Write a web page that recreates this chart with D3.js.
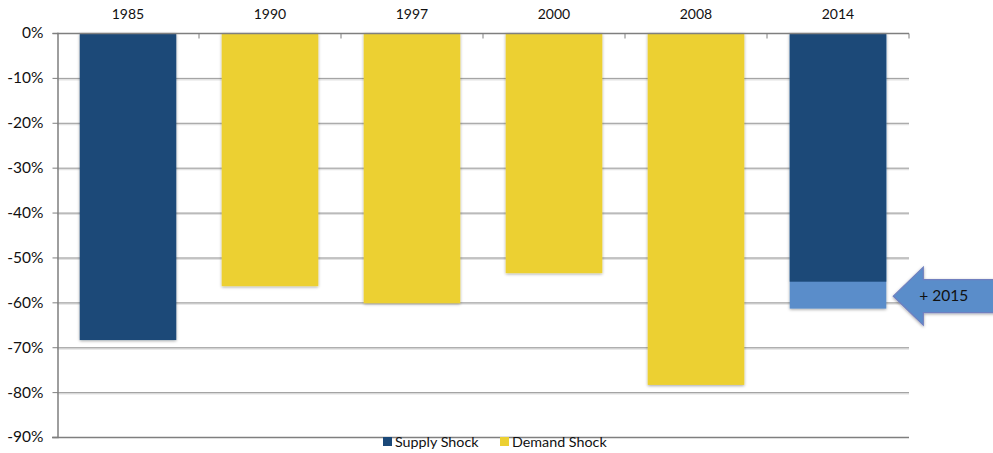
<!DOCTYPE html>
<html>
<head>
<meta charset="utf-8">
<script src="https://cdn.jsdelivr.net/npm/d3@7"></script>
<style>
  html, body { margin: 0; padding: 0; background: #fff; }
  svg { display: block; font-family: Lato, "Open Sans", sans-serif; }
</style>
</head>
<body>
<svg id="chart" width="993" height="453"></svg>
<script>
// Oil price drawdowns by episode (percent)
const years = ["1985", "1990", "1997", "2000", "2008", "2014"];
const supplyShock = [-68.4, null, null, null, null, -55.4];
const demandShock = [null, -56.4, -60.2, -53.5, -78.4, null];
const extension2015 = [null, null, null, null, null, -61.4];
const yTicks = [0, -10, -20, -30, -40, -50, -60, -70, -80, -90];
const seriesNames = ["Supply Shock", "Demand Shock"];
const arrowLabel = "+ 2015";

const colors = { supply: "#1a4878", demand: "#ecd032", ext: "#5a8dca" };

const svg = d3.select("#chart");
const m = { left: 57, right: 84, top: 33, bottom: 16 };
const W = 993, H = 453;

const x = d3.scaleBand().domain(years).range([m.left, W - m.right]).paddingInner(0.32).paddingOuter(0.16);
const y = d3.scaleLinear().domain([-90, 0]).range([H - m.bottom, m.top]);

const defs = svg.append("defs");
const f = defs.append("filter").attr("id", "soft").attr("x", "-10%").attr("y", "-10%").attr("width", "120%").attr("height", "120%");
f.append("feGaussianBlur").attr("in", "SourceAlpha").attr("stdDeviation", 1.6).attr("result", "b");
f.append("feOffset").attr("in", "b").attr("dx", 0).attr("dy", 1).attr("result", "o");
f.append("feFlood").attr("flood-color", "#000").attr("flood-opacity", 0.35);
f.append("feComposite").attr("in2", "o").attr("operator", "in").attr("result", "s");
const fm = f.append("feMerge");
fm.append("feMergeNode").attr("in", "s");
fm.append("feMergeNode").attr("in", "SourceGraphic");

// horizontal gridlines with a faint shadow
const grid = svg.append("g");
yTicks.filter(t => t !== 0 && t !== -90).forEach(t => {
  grid.append("line").attr("x1", m.left).attr("x2", W - m.right)
    .attr("y1", y(t) + 1.5).attr("y2", y(t) + 1.5)
    .attr("stroke", "#e2e2e2").attr("stroke-width", 2);
  grid.append("line").attr("x1", m.left).attr("x2", W - m.right)
    .attr("y1", y(t) + 0.5).attr("y2", y(t) + 0.5)
    .attr("stroke", "#9a9a9a").attr("stroke-width", 1);
});

// bars
const bars = svg.append("g").attr("filter", "url(#soft)");
years.forEach((yr, i) => {
  if (extension2015[i] != null) {
    bars.append("rect").attr("x", x(yr)).attr("width", x.bandwidth())
      .attr("y", y(0)).attr("height", y(extension2015[i]) - y(0)).attr("fill", colors.ext);
  }
  if (supplyShock[i] != null) {
    bars.append("rect").attr("x", x(yr)).attr("width", x.bandwidth())
      .attr("y", y(0)).attr("height", y(supplyShock[i]) - y(0)).attr("fill", colors.supply);
  }
  if (demandShock[i] != null) {
    bars.append("rect").attr("x", x(yr)).attr("width", x.bandwidth())
      .attr("y", y(0)).attr("height", y(demandShock[i]) - y(0)).attr("fill", colors.demand);
  }
});

// top category axis at 0%
const xAxis = svg.append("g").attr("transform", `translate(0,${y(0) + 0.5})`);
xAxis.append("line").attr("x1", m.left).attr("x2", W - m.right).attr("stroke", "#7f7f7f").attr("stroke-width", 1.5);
const bounds = years.map(yr => x(yr) - x.step() * x.paddingInner() / 2).slice(1).concat([W - m.right]);
bounds.forEach(b => {
  xAxis.append("line").attr("x1", b).attr("x2", b).attr("y1", 0).attr("y2", 5).attr("stroke", "#7f7f7f");
});
svg.append("g").selectAll("text").data(years).join("text")
  .attr("x", d => x(d) + x.bandwidth() / 2).attr("y", 19)
  .attr("text-anchor", "middle").attr("font-size", 14).attr("fill", "#111").text(d => d);

// bottom frame line
svg.append("line").attr("x1", m.left - 5).attr("x2", W - m.right)
  .attr("y1", y(-90) + 0.5).attr("y2", y(-90) + 0.5).attr("stroke", "#7f7f7f").attr("stroke-width", 1.5);

// value axis
const yAxis = d3.axisLeft(y).tickValues(yTicks).tickSize(5).tickFormat(d => d + "%");
const ya = svg.append("g").attr("transform", `translate(${m.left + 0.5},0)`).call(yAxis);
ya.select(".domain").attr("stroke", "#7f7f7f").attr("stroke-width", 1.5);
ya.selectAll(".tick line").attr("stroke", "#7f7f7f");
ya.selectAll(".tick text").attr("font-size", 15.5).attr("fill", "#111")
  .attr("font-family", "Lato, 'Open Sans', sans-serif").attr("x", -14);

// callout arrow pointing at the 2015 extension
const xa = x("2014") + x.bandwidth();
const ymid = y((supplyShock[5] + extension2015[5]) / 2) + 1;
const tipX = xa + 7, headBack = tipX + 30, shaftHalf = 16.5, headHalf = 29;
const arrowPts = [
  [tipX, ymid], [headBack, ymid - headHalf], [headBack, ymid - shaftHalf],
  [W + 5, ymid - shaftHalf], [W + 5, ymid + shaftHalf], [headBack, ymid + shaftHalf],
  [headBack, ymid + headHalf]
];
svg.append("path").attr("d", d3.line()(arrowPts) + "Z")
  .attr("fill", colors.ext).attr("stroke", "#6f7fbf").attr("stroke-width", 1.2)
  .attr("filter", "url(#soft)");
svg.append("text").attr("x", headBack - 4).attr("y", ymid + 5)
  .attr("font-size", 15.5).attr("fill", "#111").text(arrowLabel);

// legend
const leg = svg.append("g");
const legItems = [
  { name: seriesNames[0], color: colors.supply, x: 383 },
  { name: seriesNames[1], color: colors.demand, x: 500 }
];
legItems.forEach(it => {
  leg.append("rect").attr("x", it.x).attr("y", 437).attr("width", 9).attr("height", 9).attr("fill", it.color);
  leg.append("text").attr("x", it.x + 12).attr("y", 447).attr("font-size", 14.3)
    .attr("fill", "#111").text(it.name);
});
</script>
</body>
</html>
